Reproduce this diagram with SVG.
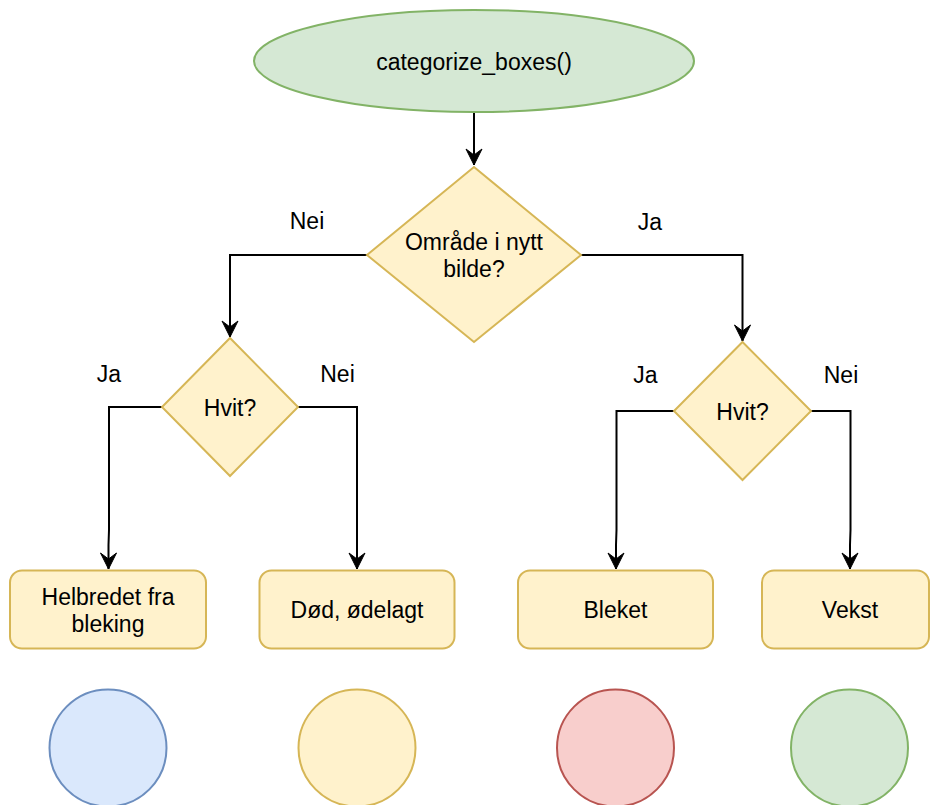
<svg xmlns="http://www.w3.org/2000/svg" width="930" height="805" viewBox="0 0 930 805">
<style>
  text { font-family: "Liberation Sans", Arial, sans-serif; font-size: 23px; fill: #000; text-anchor: middle; }
  .dec { fill: #fff2cc; stroke: #d6b656; stroke-width: 2; }
  .box { fill: #fff2cc; stroke: #d6b656; stroke-width: 2; }
  .edge { fill: none; stroke: #000; stroke-width: 2; marker-end: url(#arrow); }
</style>
<defs>
  <marker id="arrow" markerUnits="userSpaceOnUse" markerWidth="20" markerHeight="20" refX="16" refY="8" orient="auto" viewBox="0 0 20 16" overflow="visible">
    <path d="M16,8 L0,0 L6,8 L0,16 Z" fill="#000" stroke="#000" stroke-width="1"/>
  </marker>
</defs>
<rect width="930" height="805" fill="#fff"/>

<g id="edges">
  <path class="edge" d="M474,112 V165"/>
  <path class="edge" d="M367,255 H230 V337"/>
  <path class="edge" d="M581,255 H742.5 V341"/>
  <path class="edge" d="M162,407 H109 V530 L108.5,545 V569"/>
  <path class="edge" d="M298,407 H357 V569"/>
  <path class="edge" d="M674,411 H616.5 V530 L616,545 V569"/>
  <path class="edge" d="M811,411 H850.5 V530 L850,545 V569"/>
</g>

<g id="labels">
  <text x="307" y="229">Nei</text>
  <text x="650" y="230">Ja</text>
  <text x="109" y="382">Ja</text>
  <text x="337.5" y="382">Nei</text>
  <text x="645.5" y="383">Ja</text>
  <text x="841" y="383">Nei</text>
</g>

<g id="start">
  <ellipse cx="474" cy="61" rx="220" ry="51" fill="#d5e8d4" stroke="#82b366" stroke-width="2"/>
  <text x="474" y="70">categorize_boxes()</text>
</g>

<g id="decision-area">
  <polygon class="dec" points="474,167 581,255 474,342 367,255"/>
  <text x="474" y="250">Område i nytt</text>
  <text x="474" y="277">bilde?</text>
</g>

<g id="decision-white-left">
  <polygon class="dec" points="230,338 298,407 230,476 162,407"/>
  <text x="230" y="416">Hvit?</text>
</g>

<g id="decision-white-right">
  <polygon class="dec" points="742.5,342 811,411 742.5,480 674,411"/>
  <text x="742.5" y="420">Hvit?</text>
</g>

<g id="box-recovered">
  <rect class="box" x="10" y="570.5" width="196" height="78" rx="12"/>
  <text x="108" y="605">Helbredet fra</text>
  <text x="108" y="632">bleking</text>
</g>

<g id="box-dead">
  <rect class="box" x="259.5" y="570.5" width="195" height="78" rx="12"/>
  <text x="357" y="618">Død, ødelagt</text>
</g>

<g id="box-bleached">
  <rect class="box" x="518" y="570.5" width="195" height="78" rx="12"/>
  <text x="615.5" y="618">Bleket</text>
</g>

<g id="box-growth">
  <rect class="box" x="762" y="570.5" width="167" height="78" rx="12"/>
  <text x="850" y="618">Vekst</text>
</g>

<g id="circle-blue">
  <circle cx="108" cy="748" r="58.5" fill="#dae8fc" stroke="#6c8ebf" stroke-width="2"/>
</g>
<g id="circle-yellow">
  <circle cx="357" cy="748" r="58.5" fill="#fff2cc" stroke="#d6b656" stroke-width="2"/>
</g>
<g id="circle-red">
  <circle cx="615.5" cy="748" r="58.5" fill="#f8cecc" stroke="#b85450" stroke-width="2"/>
</g>
<g id="circle-green">
  <circle cx="849.5" cy="748" r="58.5" fill="#d5e8d4" stroke="#82b366" stroke-width="2"/>
</g>
</svg>
